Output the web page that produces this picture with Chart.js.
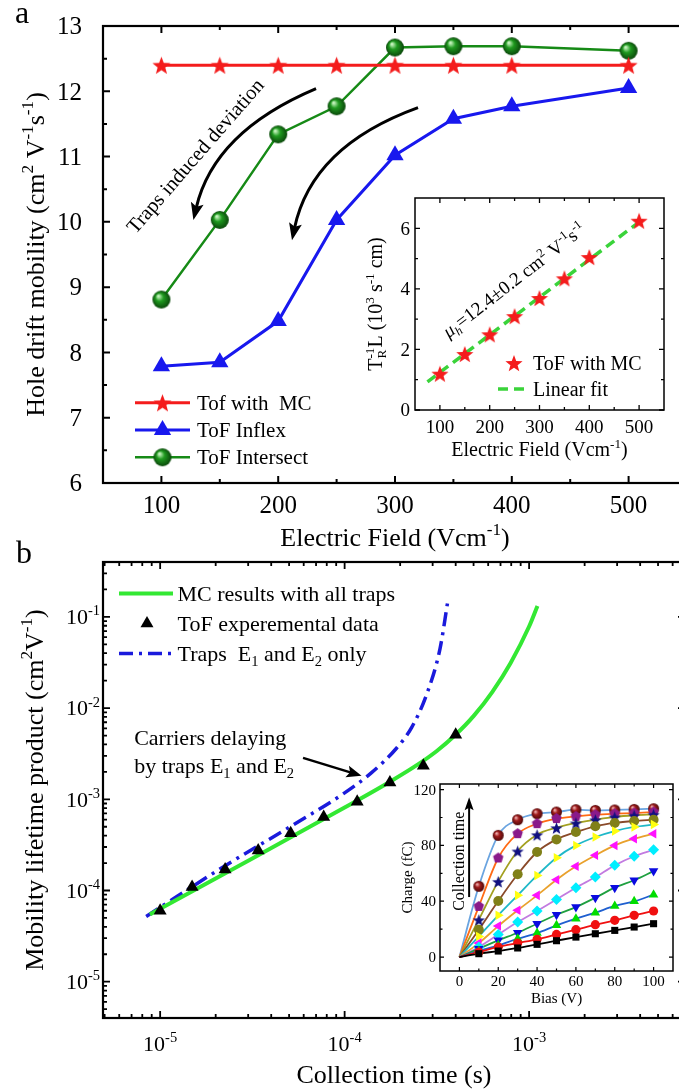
<!DOCTYPE html>
<html>
<head>
<meta charset="utf-8">
<title>Hole drift mobility and mobility-lifetime product</title>
<script src="https://cdn.jsdelivr.net/npm/chart.js@4.4.1/dist/chart.umd.min.js"></script>
<style>
  html, body { margin: 0; padding: 0; background: #fff; }
  body { position: relative; width: 679px; height: 1092px; overflow: hidden; }
  canvas { position: absolute; }
  #mainA { left: 0; top: 0; }
  #insetA { left: 330px; top: 180px; }
  #mainB { left: 0; top: 540px; }
  #insetB { left: 380px; top: 770px; }
</style>
</head>
<body>
<canvas id="mainA" width="700" height="560"></canvas>
<canvas id="mainB" width="700" height="552"></canvas>
<canvas id="insetA" width="345" height="290"></canvas>
<canvas id="insetB" width="300" height="240"></canvas>
<script>
// --- Panel a: hole drift mobility vs field ---
const fieldA = [100, 150, 200, 250, 300, 350, 400, 500];
const mobilityMC = [12.4, 12.4, 12.4, 12.4, 12.4, 12.4, 12.4, 12.4];
const mobilityInflex = [7.79, 7.85, 8.48, 10.03, 11.02, 11.58, 11.77, 12.05];
const mobilityIntersect = [8.81, 10.03, 11.34, 11.77, 12.67, 12.69, 12.69, 12.62];
const fieldTicksA = [100, 200, 300, 400, 500];
const fieldMinorA = [150, 250, 350, 450];
const mobilityTicks = [6, 7, 8, 9, 10, 11, 12, 13];
const mobilityMinor = [6.5, 7.5, 8.5, 9.5, 10.5, 11.5, 12.5];

// --- Inset of panel a: inverse transit time x thickness ---
const fieldInset = [100, 150, 200, 250, 300, 350, 400, 500];
const transitRate = [1.2, 1.85, 2.5, 3.1, 3.7, 4.35, 5.05, 6.25];
const fitField = [75, 510];
const fitRate = [0.93, 6.33];
const insetFieldTicks = [100, 200, 300, 400, 500];
const insetFieldMinor = [150, 250, 350, 450];
const insetRateTicks = [0, 2, 4, 6];
const insetRateMinor = [1, 3, 5];

// --- Panel b: mobility-lifetime product vs collection time ---
const tofTime = [1.0e-5, 1.49e-5, 2.25e-5, 3.4e-5, 5.1e-5, 7.7e-5, 1.17e-4, 1.76e-4, 2.67e-4, 4.0e-4];
const tofProduct = [6.0e-5, 1.09e-4, 1.7e-4, 2.75e-4, 4.25e-4, 6.4e-4, 9.4e-4, 1.53e-3, 2.33e-3, 5.1e-3];
const mcTime = [8.8e-6, 1.0e-5, 3.16e-5, 1.0e-4, 1.78e-4, 2.51e-4, 3.16e-4, 3.98e-4, 5.01e-4, 6.31e-4, 7.94e-4, 1.0e-3, 1.11e-3];
const mcProduct = [5.47e-5, 6.31e-5, 2.24e-4, 8.13e-4, 1.58e-3, 2.43e-3, 3.39e-3, 5.07e-3, 8.22e-3, 1.5e-2, 3.13e-2, 7.85e-2, 0.132];
const e12Time = [8.4e-6, 2.3e-5, 5.06e-5, 1.0e-4, 1.4e-4, 1.91e-4, 2.31e-4, 2.79e-4, 3.29e-4, 3.61e-4];
const e12Product = [5.2e-5, 1.92e-4, 5.0e-4, 1.175e-3, 1.96e-3, 3.63e-3, 6.15e-3, 1.43e-2, 4.49e-2, 0.141];
const timeTicks = [1e-5, 1e-4, 1e-3];
const timeLabels = ['10^{-5}', '10^{-4}', '10^{-3}'];
const productTicks = [1e-5, 1e-4, 1e-3, 1e-2, 1e-1];
const productLabels = ['10^{-5}', '10^{-4}', '10^{-3}', '10^{-2}', '10^{-1}'];

// --- Inset of panel b: collected charge vs bias, shortest to longest collection time ---
const biasV = [10, 20, 30, 40, 50, 60, 70, 80, 90, 100];
const chargeT1 = [2.4, 4.3, 6.5, 9.1, 11.7, 14.3, 16.7, 19.1, 21.5, 23.9];
const chargeT2 = [3.6, 7.2, 10.0, 12.7, 16.2, 19.6, 23.2, 26.3, 29.9, 33.0];
const chargeT3 = [4.3, 8.4, 13.1, 17.2, 22.7, 27.5, 31.8, 36.6, 39.9, 44.7];
const chargeT4 = [6.0, 12.0, 17.4, 23.9, 30.3, 35.8, 42.5, 49.7, 55.0, 61.6];
const chargeT5 = [7.2, 16.2, 25.1, 33.0, 41.3, 49.7, 57.3, 65.7, 72.2, 76.9];
const chargeT6 = [10.0, 22.2, 33.5, 44.2, 55.4, 65.0, 72.9, 80.0, 84.8, 88.4];
const chargeT7 = [14.8, 29.9, 44.2, 58.5, 71.2, 80.0, 86.0, 90.3, 93.2, 94.9];
const chargeT8 = [19.6, 40.1, 59.3, 75.3, 84.3, 89.6, 93.7, 96.1, 97.5, 98.4];
const chargeT9 = [26.8, 54.2, 76.0, 87.7, 92.7, 96.1, 98.4, 100.4, 101.6, 102.3];
const chargeT10 = [36.3, 71.0, 88.4, 95.6, 99.2, 100.8, 102.0, 102.7, 103.2, 103.9];
const chargeT11 = [50.7, 87.2, 98.4, 102.7, 103.9, 105.6, 105.1, 105.4, 105.8, 106.3];
const biasTicks = [0, 20, 40, 60, 80, 100];
const biasMinor = [10, 30, 50, 70, 90];
const chargeTicks = [0, 40, 80, 120];
const chargeMinor = [20, 60, 100];

const SERIF = '"Liberation Serif", "Times New Roman", serif';
const xy = (xs, ys) => xs.map((x, i) => ({ x, y: ys[i] }));

// ---------- text with ^{sup}, _{sub}, ~{italic} ----------
function parseRich(str) {
  const parts = [];
  const re = /([\^_~]+)\{([^}]*)\}/g;
  let last = 0, m;
  while ((m = re.exec(str)) !== null) {
    if (m.index > last) parts.push({ t: str.slice(last, m.index), k: '' });
    parts.push({ t: m[2], k: m[1] });
    last = re.lastIndex;
  }
  if (last < str.length) parts.push({ t: str.slice(last), k: '' });
  return parts;
}

function richFont(k, size) {
  const small = k.includes('^') || k.includes('_');
  return (k.includes('~') ? 'italic ' : '') + (small ? size * 0.66 : size).toFixed(1) + 'px ' + SERIF;
}

function drawRich(ctx, str, x, y, size, align, angle) {
  const parts = parseRich(str);
  const pos = [];
  let w = 0;
  for (let i = 0; i < parts.length; i++) {
    ctx.font = richFont(parts[i].k, size);
    const w1 = ctx.measureText(parts[i].t).width;
    const next = parts[i + 1];
    if (parts[i].k.includes('_') && next && next.k.includes('^')) {
      // subscript + superscript stacked in one column
      ctx.font = richFont(next.k, size);
      const w2 = ctx.measureText(next.t).width;
      pos.push(w, w);
      w += Math.max(w1, w2);
      i++;
      continue;
    }
    pos.push(w);
    w += w1;
  }
  ctx.save();
  ctx.translate(x, y);
  if (angle) ctx.rotate(angle * Math.PI / 180);
  const x0 = align === 'right' ? -w : align === 'left' ? 0 : -w / 2;
  ctx.textAlign = 'left';
  ctx.textBaseline = 'alphabetic';
  ctx.fillStyle = '#000';
  const base = size * 0.33;
  parts.forEach((p, i) => {
    ctx.font = richFont(p.k, size);
    const dy = p.k.includes('^') ? -size * 0.4 : p.k.includes('_') ? size * 0.22 : 0;
    ctx.fillText(p.t, x0 + pos[i], base + dy);
  });
  ctx.restore();
}

// ---------- marker images ----------
function starImage(r, color) {
  const c = document.createElement('canvas');
  c.width = c.height = Math.ceil(2 * r + 2);
  const g = c.getContext('2d');
  const m = c.width / 2;
  g.beginPath();
  for (let i = 0; i < 10; i++) {
    const rr = i % 2 ? r * 0.42 : r;
    const a = -Math.PI / 2 + i * Math.PI / 5;
    g.lineTo(m + rr * Math.cos(a), m + 1 + rr * Math.sin(a));
  }
  g.closePath();
  g.fillStyle = color;
  g.fill();
  return c;
}

function polygonImage(r, color, n) {
  const c = document.createElement('canvas');
  c.width = c.height = Math.ceil(2 * r + 2);
  const g = c.getContext('2d');
  const m = c.width / 2;
  g.beginPath();
  for (let i = 0; i < n; i++) {
    const a = -Math.PI / 2 + i * 2 * Math.PI / n;
    g.lineTo(m + r * Math.cos(a), m + r * Math.sin(a));
  }
  g.closePath();
  g.fillStyle = color;
  g.fill();
  return c;
}

function sphereImage(r, light, base, dark) {
  const c = document.createElement('canvas');
  c.width = c.height = Math.ceil(2 * r + 2);
  const g = c.getContext('2d');
  const m = c.width / 2;
  const grad = g.createRadialGradient(m - r * 0.35, m - r * 0.4, r * 0.08, m, m, r);
  grad.addColorStop(0, light);
  grad.addColorStop(0.4, base);
  grad.addColorStop(1, dark);
  g.fillStyle = grad;
  g.beginPath();
  g.arc(m, m, r, 0, 2 * Math.PI);
  g.fill();
  return c;
}

const redStar = starImage(9.5, '#f41c1c');
const greenBall = sphereImage(9, '#c8f5c0', '#1f9a1f', '#0a470a');
const insetStar = starImage(9, '#f41c1c');
const navyStar = starImage(6.5, '#101080');
const purplePentagon = polygonImage(5.5, '#8a1a8a', 5);
const maroonBall = sphereImage(5.5, '#f3b4b4', '#a01c1c', '#4e0808');

// ---------- arrows ----------
function arrowHead(ctx, x, y, angle, len, half) {
  ctx.save();
  ctx.translate(x, y);
  ctx.rotate(angle);
  ctx.beginPath();
  ctx.moveTo(0, 0);
  ctx.lineTo(-len, -half);
  ctx.lineTo(-len * 0.8, 0);
  ctx.lineTo(-len, half);
  ctx.closePath();
  ctx.fill();
  ctx.restore();
}

function curvedArrow(ctx, s, c, e, width, len, half) {
  const ang = Math.atan2(e[1] - c[1], e[0] - c[0]);
  const ex = e[0] - Math.cos(ang) * len * 0.7, ey = e[1] - Math.sin(ang) * len * 0.7;
  ctx.lineWidth = width;
  ctx.strokeStyle = '#000';
  ctx.fillStyle = '#000';
  ctx.beginPath();
  ctx.moveTo(s[0], s[1]);
  ctx.quadraticCurveTo(c[0], c[1], ex, ey);
  ctx.stroke();
  arrowHead(ctx, e[0], e[1], ang, len, half);
}

// ---------- axis frame with inward ticks on all four sides ----------
function logMinor(min, max) {
  const out = [];
  for (let e = Math.floor(Math.log10(min)); e <= Math.ceil(Math.log10(max)); e++) {
    for (let m = 2; m <= 9; m++) {
      const v = m * Math.pow(10, e);
      if (v > min && v < max) out.push(v);
    }
  }
  return out;
}

function axisFrame(cfg) {
  return {
    id: 'axisFrame',
    afterDraw(chart) {
      const { ctx, chartArea: a, scales } = chart;
      const sx = scales.x, sy = scales.y;
      ctx.save();
      ctx.strokeStyle = '#000';
      ctx.lineWidth = cfg.frame;
      ctx.strokeRect(a.left, a.top, a.right - a.left, a.bottom - a.top);
      ctx.lineWidth = cfg.tickWidth;
      ctx.beginPath();
      const xt = (vals, len) => vals.forEach(v => {
        const p = sx.getPixelForValue(v);
        ctx.moveTo(p, a.bottom); ctx.lineTo(p, a.bottom - len);
        ctx.moveTo(p, a.top); ctx.lineTo(p, a.top + len);
      });
      const yt = (vals, len) => vals.forEach(v => {
        const p = sy.getPixelForValue(v);
        ctx.moveTo(a.left, p); ctx.lineTo(a.left + len, p);
        ctx.moveTo(a.right, p); ctx.lineTo(a.right - len, p);
      });
      xt(cfg.xMajor, cfg.major); xt(cfg.xMinor, cfg.minor);
      yt(cfg.yMajor, cfg.major); yt(cfg.yMinor, cfg.minor);
      ctx.stroke();
      cfg.xMajor.forEach((v, i) => drawRich(ctx, cfg.xLabels[i], sx.getPixelForValue(v), a.bottom + cfg.xLabelGap, cfg.tickSize, 'center'));
      cfg.yMajor.forEach((v, i) => drawRich(ctx, cfg.yLabels[i], a.left - cfg.yLabelGap, sy.getPixelForValue(v), cfg.tickSize, 'right'));
      drawRich(ctx, cfg.xTitle, (a.left + a.right) / 2, a.bottom + cfg.xTitleGap, cfg.titleSize, 'center');
      drawRich(ctx, cfg.yTitle, a.left - cfg.yTitleGap, (a.top + a.bottom) / 2, cfg.titleSize, 'center', -90);
      if (cfg.extra) cfg.extra(ctx, a, sx, sy);
      ctx.restore();
    }
  };
}

const baseOptions = (padding, xScale, yScale) => ({
  responsive: false,
  animation: false,
  events: [],
  layout: { padding },
  scales: { x: Object.assign({ display: false }, xScale), y: Object.assign({ display: false }, yScale) },
  plugins: { legend: { display: false }, tooltip: { enabled: false } }
});

// ================= Panel a =================
new Chart(document.getElementById('mainA'), {
  type: 'line',
  data: {
    datasets: [
      { label: 'Tof with  MC', data: xy(fieldA, mobilityMC), borderColor: '#f41c1c', borderWidth: 3,
        pointStyle: redStar, pointRadius: 9 },
      { label: 'ToF Inflex', data: xy(fieldA, mobilityInflex), borderColor: '#1818ee', borderWidth: 3,
        pointStyle: 'triangle', pointRadius: 10, pointBackgroundColor: '#1818ee', pointBorderWidth: 0 },
      { label: 'ToF Intersect', data: xy(fieldA, mobilityIntersect), borderColor: '#168a16', borderWidth: 2.5,
        pointStyle: greenBall, pointRadius: 9 }
    ]
  },
  options: baseOptions({ left: 103, top: 26, right: 13, bottom: 77 },
    { type: 'linear', min: 50, max: 550 }, { type: 'linear', min: 6, max: 13 }),
  plugins: [axisFrame({
    frame: 2.2, tickWidth: 2, major: 7, minor: 4,
    xMajor: fieldTicksA, xMinor: fieldMinorA, xLabels: fieldTicksA.map(String),
    yMajor: mobilityTicks, yMinor: mobilityMinor, yLabels: mobilityTicks.map(String),
    tickSize: 25, titleSize: 26, xLabelGap: 22, yLabelGap: 21, xTitleGap: 54, yTitleGap: 68,
    xTitle: 'Electric Field (Vcm^{-1})',
    yTitle: 'Hole drift mobility (cm^{2} V^{-1}s^{-1})',
    extra(ctx, a, sx, sy) {
      const P = (x, y) => [sx.getPixelForValue(x), sy.getPixelForValue(y)];
      curvedArrow(ctx, P(232.4, 12.04), P(144.9, 11.38), P(127.4, 10.03), 3, 17, 6.5);
      curvedArrow(ctx, P(319.7, 11.75), P(228.6, 11.16), P(211.8, 9.72), 3, 17, 6.5);
      const t = P(128.8, 11.01);
      drawRich(ctx, 'Traps induced deviation', t[0], t[1], 20.5, 'center', -49);

      // legend
      const rows = [
        { label: 'Tof with  MC', color: '#f41c1c', width: 3, marker: redStar },
        { label: 'ToF Inflex', color: '#1818ee', width: 3, marker: 'triangle' },
        { label: 'ToF Intersect', color: '#168a16', width: 2.5, marker: greenBall }
      ];
      rows.forEach((r, i) => {
        const y = a.top + 376.7 + i * 27.3;
        ctx.strokeStyle = r.color;
        ctx.lineWidth = r.width;
        ctx.beginPath();
        ctx.moveTo(a.left + 32, y);
        ctx.lineTo(a.left + 87, y);
        ctx.stroke();
        const mx = a.left + 59.5;
        if (r.marker === 'triangle') {
          ctx.fillStyle = r.color;
          Chart.helpers.drawPoint(ctx, { pointStyle: 'triangle', radius: 10, rotation: 0, borderWidth: 0 }, mx, y);
        } else {
          ctx.drawImage(r.marker, mx - r.marker.width / 2, y - r.marker.height / 2);
        }
        drawRich(ctx, r.label, a.left + 94, y, 21, 'left');
      });

      ctx.fillStyle = '#000';
      ctx.font = '32px ' + SERIF;
      ctx.textAlign = 'left';
      ctx.textBaseline = 'alphabetic';
      ctx.fillText('a', 15, 23);
    }
  })]
});

// ================= Inset of panel a =================
new Chart(document.getElementById('insetA'), {
  type: 'line',
  data: {
    datasets: [
      { label: 'ToF with MC', data: xy(fieldInset, transitRate), showLine: false,
        pointStyle: insetStar, pointRadius: 9 },
      { label: 'Linear fit', data: xy(fitField, fitRate), borderColor: '#3ad33a', borderWidth: 3.5,
        borderDash: [10, 6], pointRadius: 0 }
    ]
  },
  options: baseOptions({ left: 85, top: 18, right: 11, bottom: 60 },
    { type: 'linear', min: 50, max: 550 }, { type: 'linear', min: 0, max: 7 }),
  plugins: [axisFrame({
    frame: 1.5, tickWidth: 1.3, major: 5, minor: 3,
    xMajor: insetFieldTicks, xMinor: insetFieldMinor, xLabels: insetFieldTicks.map(String),
    yMajor: insetRateTicks, yMinor: insetRateMinor, yLabels: insetRateTicks.map(String),
    tickSize: 19, titleSize: 20, xLabelGap: 17, yLabelGap: 5, xTitleGap: 39, yTitleGap: 40,
    xTitle: 'Electric Field (Vcm^{-1})',
    yTitle: 'T_{R}^{-1}L (10^{3} s^{-1} cm)',
    extra(ctx, a, sx, sy) {
      drawRich(ctx, '~{μ}~_{h}=12.4±0.2 cm^{2} V^{-1}s^{-1}', sx.getPixelForValue(249), sy.getPixelForValue(4.29), 19, 'center', -37.7);
      ctx.drawImage(insetStar, a.left + 99 - insetStar.width / 2, a.top + 165 - insetStar.height / 2);
      drawRich(ctx, 'ToF with MC', a.left + 118, a.top + 165, 20, 'left');
      ctx.strokeStyle = '#3ad33a';
      ctx.lineWidth = 3.5;
      ctx.setLineDash([10, 6]);
      ctx.beginPath();
      ctx.moveTo(a.left + 83, a.top + 191);
      ctx.lineTo(a.left + 113, a.top + 191);
      ctx.stroke();
      ctx.setLineDash([]);
      drawRich(ctx, 'Linear fit', a.left + 118, a.top + 191, 20, 'left');
    }
  })]
});

// ================= Panel b =================
const timeMin = 4.9e-6, timeMax = 7.0e-3, prodMin = 4e-6, prodMax = 0.4;
new Chart(document.getElementById('mainB'), {
  type: 'line',
  data: {
    datasets: [
      { label: 'ToF experemental data', data: xy(tofTime, tofProduct), showLine: false, order: 0,
        pointStyle: 'triangle', pointRadius: 7.5, pointBackgroundColor: '#000', pointBorderWidth: 0 },
      { label: 'MC results with all traps', data: xy(mcTime, mcProduct), order: 1,
        borderColor: '#33e833', borderWidth: 4, pointRadius: 0, cubicInterpolationMode: 'monotone' },
      { label: 'Traps  E1 and E2 only', data: xy(e12Time, e12Product), order: 2,
        borderColor: '#1a1adc', borderWidth: 3.5, borderDash: [14, 6, 3, 6], pointRadius: 0,
        cubicInterpolationMode: 'monotone' }
    ]
  },
  options: baseOptions({ left: 103, top: 22, right: 15, bottom: 74 },
    { type: 'logarithmic', min: timeMin, max: timeMax }, { type: 'logarithmic', min: prodMin, max: prodMax }),
  plugins: [axisFrame({
    frame: 2.2, tickWidth: 1.8, major: 7, minor: 4,
    xMajor: timeTicks, xMinor: logMinor(timeMin, timeMax), xLabels: timeLabels,
    yMajor: productTicks, yMinor: logMinor(prodMin, prodMax), yLabels: productLabels,
    tickSize: 22, titleSize: 26, xLabelGap: 26, yLabelGap: 3, xTitleGap: 56, yTitleGap: 69,
    xTitle: 'Collection time (s)',
    yTitle: 'Mobility lifetime product (cm^{2}V^{-1})',
    extra(ctx, a, sx, sy) {
      // legend
      const lx = a.left + 16, tx = a.left + 74.5;
      ctx.strokeStyle = '#33e833';
      ctx.lineWidth = 4;
      ctx.beginPath();
      ctx.moveTo(lx, a.top + 31.6); ctx.lineTo(lx + 54, a.top + 31.6);
      ctx.stroke();
      drawRich(ctx, 'MC results with all traps', tx, a.top + 31.6, 22, 'left');
      ctx.fillStyle = '#000';
      Chart.helpers.drawPoint(ctx, { pointStyle: 'triangle', radius: 7.5, rotation: 0, borderWidth: 0 }, lx + 28, a.top + 61.6);
      drawRich(ctx, 'ToF experemental data', tx, a.top + 61.6, 22, 'left');
      ctx.strokeStyle = '#1a1adc';
      ctx.lineWidth = 3.5;
      ctx.setLineDash([14, 6, 3, 6]);
      ctx.beginPath();
      ctx.moveTo(lx, a.top + 91.6); ctx.lineTo(lx + 54, a.top + 91.6);
      ctx.stroke();
      ctx.setLineDash([]);
      drawRich(ctx, 'Traps  E_{1} and E_{2} only', tx, a.top + 91.6, 22, 'left');

      // annotation
      const P = (x, y) => [sx.getPixelForValue(x), sy.getPixelForValue(y)];
      const l1 = P(7.23e-6, 4.77e-3), l2 = P(7.23e-6, 2.33e-3);
      drawRich(ctx, 'Carriers delaying', l1[0], l1[1], 22, 'left');
      drawRich(ctx, 'by traps E_{1} and E_{2}', l2[0], l2[1], 22, 'left');
      const s = P(5.95e-5, 2.85e-3), e = P(1.235e-4, 1.81e-3);
      const ang = Math.atan2(e[1] - s[1], e[0] - s[0]);
      ctx.strokeStyle = '#000';
      ctx.fillStyle = '#000';
      ctx.lineWidth = 2.5;
      ctx.beginPath();
      ctx.moveTo(s[0], s[1]);
      ctx.lineTo(e[0] - Math.cos(ang) * 10, e[1] - Math.sin(ang) * 10);
      ctx.stroke();
      arrowHead(ctx, e[0], e[1], ang, 15, 6);

      ctx.font = '32px ' + SERIF;
      ctx.textAlign = 'left';
      ctx.textBaseline = 'alphabetic';
      ctx.fillText('b', 16, 23);
    }
  })]
});

// ================= Inset of panel b =================
const chargeSets = [chargeT1, chargeT2, chargeT3, chargeT4, chargeT5, chargeT6, chargeT7, chargeT8, chargeT9, chargeT10, chargeT11];
const fitColors = ['#000000', '#f01010', '#1f5fd0', '#1fa040', '#c27be0', '#e9a12c', '#1fb8c8', '#8a4a2a', '#a3a020', '#ff6a14', '#6aa4e0'];
const markerStyles = [
  { style: 'rect', color: '#000000', r: 5, rot: 0 },
  { style: 'circle', color: '#f01010', r: 4.6, rot: 0 },
  { style: 'triangle', color: '#00dd00', r: 5.5, rot: 0 },
  { style: 'triangle', color: '#0a0ae0', r: 5.5, rot: 180 },
  { style: 'rectRot', color: '#00eeff', r: 5.5, rot: 0 },
  { style: 'triangle', color: '#ff10ff', r: 5.5, rot: -90 },
  { style: 'triangle', color: '#ffff10', r: 5.5, rot: 90 },
  { style: 'circle', color: '#808018', r: 5, rot: 0 },
  { style: navyStar, color: '#101080', r: 5, rot: 0 },
  { style: purplePentagon, color: '#8a1a8a', r: 5, rot: 0 },
  { style: maroonBall, color: '#a01c1c', r: 5, rot: 0 }
];
const insetDatasets = [];
chargeSets.forEach((q, i) => {
  insetDatasets.push({ data: [{ x: 0, y: 0 }].concat(xy(biasV, q)), order: 1,
    borderColor: fitColors[i], borderWidth: 1.8, pointRadius: 0, cubicInterpolationMode: 'monotone' });
  insetDatasets.push({ data: xy(biasV, q), order: 0, showLine: false,
    pointStyle: markerStyles[i].style, pointRadius: markerStyles[i].r, pointRotation: markerStyles[i].rot,
    pointBackgroundColor: markerStyles[i].color, pointBorderWidth: 0 });
});

new Chart(document.getElementById('insetB'), {
  type: 'line',
  data: { datasets: insetDatasets },
  options: baseOptions({ left: 60, top: 14, right: 7, bottom: 39 },
    { type: 'linear', min: -10, max: 110 }, { type: 'linear', min: -10, max: 124 }),
  plugins: [axisFrame({
    frame: 1.5, tickWidth: 1.2, major: 4, minor: 2.5,
    xMajor: biasTicks, xMinor: biasMinor, xLabels: biasTicks.map(String),
    yMajor: chargeTicks, yMinor: chargeMinor, yLabels: chargeTicks.map(String),
    tickSize: 15, titleSize: 15, xLabelGap: 10, yLabelGap: 4, xTitleGap: 27, yTitleGap: 33,
    xTitle: 'Bias (V)',
    yTitle: 'Charge (fC)',
    extra(ctx, a, sx, sy) {
      const ax = sx.getPixelForValue(5);
      const y0 = sy.getPixelForValue(43), y1 = sy.getPixelForValue(114.5);
      ctx.strokeStyle = '#000';
      ctx.fillStyle = '#000';
      ctx.lineWidth = 2;
      ctx.beginPath();
      ctx.moveTo(ax, y0);
      ctx.lineTo(ax, y1 + 8);
      ctx.stroke();
      arrowHead(ctx, ax, y1, -Math.PI / 2, 13, 4.5);
      drawRich(ctx, 'Collection time', sx.getPixelForValue(-0.5), sy.getPixelForValue(68.6), 16, 'center', -90);
    }
  })]
});
</script>
</body>
</html>
